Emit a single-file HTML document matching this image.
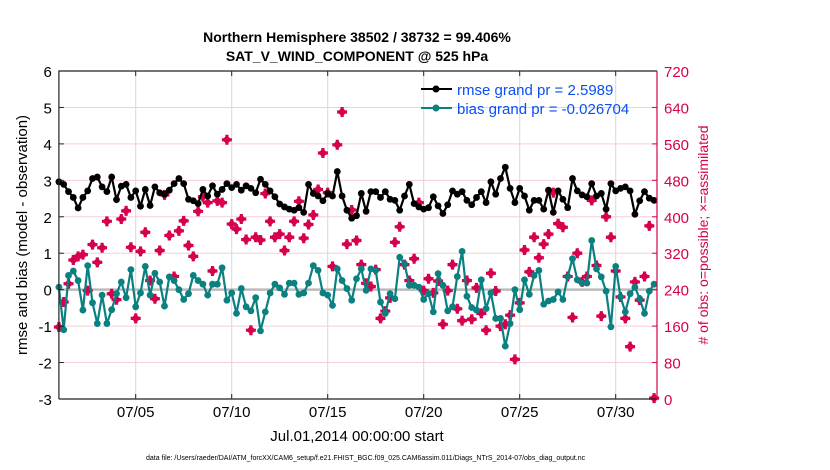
<!DOCTYPE html>
<html><head><meta charset="utf-8"><style>
html,body{margin:0;padding:0;background:#fff;width:830px;height:470px;overflow:hidden}
svg text{font-family:"Liberation Sans",Arial,sans-serif}
</style></head><body>
<svg id="chart" width="830" height="470" viewBox="0 0 830 470" xmlns="http://www.w3.org/2000/svg">
<text x="357" y="42" text-anchor="middle" font-size="14" font-weight="bold">Northern Hemisphere 38502 / 38732 = 99.406%</text>
<text x="357" y="61" text-anchor="middle" font-size="14" font-weight="bold">SAT_V_WIND_COMPONENT @ 525 hPa</text>
<g id="grid"></g>
<g id="marks"></g>
<g id="axes"></g>
<text transform="translate(27,235) rotate(-90)" text-anchor="middle" font-size="15">rmse and bias (model - observation)</text>
<text transform="translate(708,235) rotate(-90)" text-anchor="middle" font-size="14" fill="#d6004f"># of obs: o=possible; ×=assimilated</text>
<text x="357" y="441" text-anchor="middle" font-size="15">Jul.01,2014 00:00:00 start</text>
<text x="146" y="460" font-size="7">data file: /Users/raeder/DAI/ATM_forcXX/CAM6_setup/f.e21.FHIST_BGC.f09_025.CAM6assim.011/Diags_NTrS_2014-07/obs_diag_output.nc</text>
<g>
<line x1="421" y1="89" x2="452" y2="89" stroke="#000" stroke-width="2"/><circle cx="436" cy="89" r="3.5" fill="#000"/>
<text x="457" y="95" font-size="15" fill="#0a4ef5">rmse grand pr = 2.5989</text>
<line x1="421" y1="108" x2="452" y2="108" stroke="#0a8080" stroke-width="2"/><circle cx="436" cy="108" r="3.5" fill="#0a8080"/>
<text x="457" y="114" font-size="15" fill="#0a4ef5">bias grand pr = -0.026704</text>
</g>
</svg>
<script>
const rmse=[2.96,2.89,2.69,2.53,2.24,2.53,2.71,3.05,3.09,2.82,2.69,3.09,2.47,2.84,2.89,2.53,2.71,2.29,2.75,2.31,2.82,2.66,2.62,2.73,2.91,3.05,2.91,2.48,2.44,2.36,2.75,2.57,2.85,2.62,2.75,2.91,2.8,2.89,2.73,2.85,2.78,2.66,3.03,2.89,2.71,2.55,2.35,2.27,2.21,2.18,2.25,2.12,2.89,2.64,2.57,2.44,2.64,2.57,3.24,2.57,2.18,1.96,2.03,2.64,2.15,2.69,2.69,2.53,2.69,2.48,2.45,2.18,2.57,2.89,2.36,2.27,2.21,2.25,2.55,2.3,2.09,2.33,2.71,2.62,2.69,2.45,2.33,2.53,2.69,2.39,2.96,2.62,3.05,3.36,2.78,2.39,2.78,2.57,2.18,2.45,2.45,2.21,2.73,2.12,2.71,2.48,2.25,3.05,2.71,2.6,2.55,2.91,2.57,2.64,2.21,2.91,2.71,2.78,2.82,2.71,2.07,2.44,2.69,2.51,2.45];
const bias=[0.07,-1.1,0.39,0.51,0.25,-0.56,0.66,-0.36,-0.93,-0.15,-0.93,-0.55,-0.11,0.21,-0.22,0.55,-0.47,-0.09,0.64,-0.15,0.45,0.21,-0.45,0.35,0.25,0,-0.27,-0.11,0.39,0.25,0.15,-0.15,0.15,0.15,0.6,-0.29,-0.09,-0.65,0.03,-0.47,-0.58,-0.22,-1.13,-0.61,-0.09,0.15,0.05,-0.13,0.18,0.18,-0.13,-0.09,0.18,0.66,0.53,-0.09,-0.15,-0.43,0.57,0.25,0.03,-0.29,0.3,0.57,-0.02,0.57,0.53,-0.34,-0.65,-0.11,-0.25,0.89,0.71,0.12,0.12,0.07,-0.27,-0.11,-0.61,0.44,0.12,-0.58,-0.47,0.36,1.05,-0.18,-0.49,-0.56,0.27,-0.52,-0.09,-0.79,-0.79,-1.55,-0.93,0,-0.55,0.27,-0.13,0.39,0.53,-0.4,-0.31,-0.27,-0.06,-0.27,0.36,0.85,0.27,0.18,0.18,1.35,0.57,0.35,-0.04,-1.02,0.64,-0.2,-0.61,-0.11,0.07,-0.25,-0.65,-0.04,0.15];
const nobs=[158,213,253,305,313,317,238,339,300,332,390,231,218,395,413,333,177,324,366,260,220,326,448,359,269,369,391,337,313,412,444,431,281,435,431,569,384,373,395,350,151,355,349,451,390,355,362,326,355,390,434,353,383,404,460,540,453,291,558,630,340,415,348,295,254,247,284,177,193,222,344,378,295,260,308,431,238,264,233,259,164,238,295,198,172,260,175,244,188,151,276,237,160,164,184,87,211,327,279,355,310,340,362,453,385,377,269,179,320,257,269,436,293,182,400,355,281,224,177,115,257,217,269,380,2];
const yTicks=[-3,-2,-1,0,1,2,3,4,5,6];
const y2Ticks=[0,80,160,240,320,400,480,560,640,720];
const xTickDays=[4,9,14,19,24,29];
const xTickLabels=["07/05","07/10","07/15","07/20","07/25","07/30"];

const NS="http://www.w3.org/2000/svg";
const L=58.9,R=657,T=71,B=399,dayPx=19.2;
const xDay=d=>L+d*dayPx;
const xIdx=i=>xDay(i*0.25);
const y=v=>B-(v+3)*(B-T)/9;
const y2=v=>B-v*(B-T)/720;
function mk(tag,attrs,parent){const e=document.createElementNS(NS,tag);for(const k in attrs)e.setAttribute(k,attrs[k]);parent.appendChild(e);return e;}
const grid=document.getElementById('grid'),marks=document.getElementById('marks'),axes=document.getElementById('axes');

yTicks.forEach(v=>{
  if(v!==-3&&v!==6&&v!==0){const g=mk('line',{x1:L,x2:R,y1:y(v),y2:y(v),stroke:'#f5cfdd','stroke-width':1},grid);
  
  }
  const t=mk('text',{x:L-7,y:y(v)+6,'text-anchor':'end','font-size':15},axes);t.textContent=v;
  
  
  mk('line',{x1:L,x2:L+5,y1:y(v),y2:y(v),stroke:'#222'},axes);
});
y2Ticks.forEach(v=>{
  const t=mk('text',{x:R+7,y:y2(v)+6,'font-size':15,fill:'#d6004f'},axes);t.textContent=v;
  
  
  mk('line',{x1:R-5,x2:R,y1:y2(v),y2:y2(v),stroke:'#d6004f'},axes);
});
xTickDays.forEach((d,k)=>{
  const g=mk('line',{x1:xDay(d),x2:xDay(d),y1:T,y2:B,stroke:'#d8d8d8'},grid);
  
  
  mk('line',{x1:xDay(d),x2:xDay(d),y1:B-5,y2:B,stroke:'#222'},axes);
  mk('line',{x1:xDay(d),x2:xDay(d),y1:T,y2:T+5,stroke:'#222'},axes);
  const t=mk('text',{x:xDay(d),y:417,'text-anchor':'middle','font-size':15},axes);t.textContent=xTickLabels[k];
  
  
});
const zl=mk('line',{x1:L,x2:R,y1:y(0),y2:y(0),stroke:'#bbb','stroke-width':2.5},grid);



nobs.forEach((v,i)=>{
  const cx=xIdx(i),cy=y2(v);
  const g=mk('g',{},marks);
  
  
  mk('path',{d:`M${cx-5} ${cy}H${cx+5}M${cx} ${cy-5}V${cy+5}`,stroke:'#d6004f','stroke-width':3.2},g);
  mk('rect',{x:cx-3.3,y:cy-3.3,width:6.6,height:6.6,fill:'#d6004f',transform:`rotate(45 ${cx} ${cy})`},g);
});
function series(vals,color,name){
  const p=mk('polyline',{points:vals.map((v,i)=>xIdx(i)+','+y(v)).join(' '),fill:'none',stroke:color,'stroke-width':2.2},marks);
  
  
  vals.forEach((v,i)=>{const c=mk('circle',{cx:xIdx(i),cy:y(v),r:3.4,fill:color},marks);
    
    });
}
series(rmse,'#000','rmse');
series(bias,'#0a8080','bias');

mk('path',{d:`M${L} ${B}V${T}H${R}`,fill:'none',stroke:'#222','stroke-width':1.2},axes);
mk('line',{x1:L,x2:R,y1:B,y2:B,stroke:'#222','stroke-width':1.2},axes);
mk('line',{x1:R,x2:R,y1:T,y2:B,stroke:'#d6004f','stroke-width':1.2},axes);
</script>
</body></html>
